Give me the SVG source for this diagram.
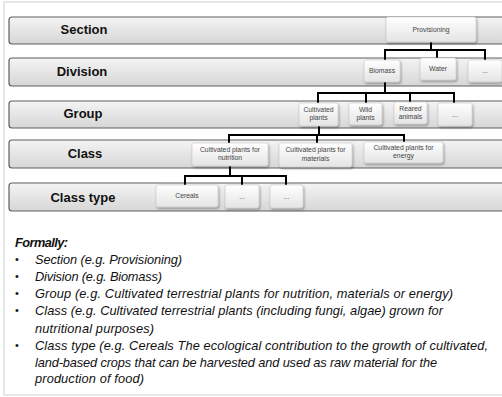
<svg xmlns="http://www.w3.org/2000/svg" width="502" height="397" viewBox="0 0 502 397">
<defs>
<linearGradient id="barG" x1="0" y1="0" x2="0" y2="1">
<stop offset="0" stop-color="#f4f4f4"/>
<stop offset="1" stop-color="#d6d6d6"/>
</linearGradient>
<linearGradient id="boxG" x1="0" y1="0" x2="0" y2="1">
<stop offset="0" stop-color="#ffffff"/>
<stop offset="1" stop-color="#e4e4e4"/>
</linearGradient>
<filter id="sh" x="-20%" y="-20%" width="140%" height="150%">
<feDropShadow dx="1" dy="1.5" stdDeviation="0.8" flood-color="#000" flood-opacity="0.35"/>
</filter>
</defs>
<style>
.bar{fill:url(#barG);stroke:#5e5e5e;stroke-width:1.2}
.box{fill:url(#boxG);stroke:#c8c8c8;stroke-width:0.6;filter:url(#sh)}
.lbl{font-family:"Liberation Sans",Arial,sans-serif;font-weight:bold;font-size:13px;fill:#111;text-anchor:middle}
.bt{font-family:"Liberation Sans",Arial,sans-serif;font-size:6.8px;fill:#444;text-anchor:middle}
.conn{fill:none;stroke:#000;stroke-width:2}
.txt{font-family:"Liberation Sans",Arial,sans-serif;font-style:italic;font-size:12.8px;fill:#111}
.bul{font-family:"Liberation Sans",Arial,sans-serif;font-size:11px;fill:#111}
</style>
<rect x="0" y="0" width="502" height="397" fill="#fff"/>
<rect x="4" y="2" width="510" height="393" fill="#fff" stroke="#d0d0d0" stroke-width="1"/>

<g id="bar-section"><rect class="bar" x="9" y="17" width="505" height="27" rx="3"/><text class="lbl" x="84" y="34">Section</text></g>
<g id="bar-division"><rect class="bar" x="9" y="58" width="505" height="28" rx="3"/><text class="lbl" x="82" y="76">Division</text></g>
<g id="bar-group"><rect class="bar" x="9" y="101" width="505" height="27" rx="3"/><text class="lbl" x="83" y="118">Group</text></g>
<g id="bar-class"><rect class="bar" x="9" y="140" width="505" height="28" rx="3"/><text class="lbl" x="85" y="158">Class</text></g>
<g id="bar-classtype"><rect class="bar" x="9" y="183" width="505" height="28" rx="3"/><text class="lbl" x="83" y="202">Class type</text></g>

<g id="connectors">
<path class="conn" d="M431 42V50M385 60V50H485V60M437 50V58"/>
<path class="conn" d="M385 82V93M318 103V93H454V103M366 93V103M410 93V103"/>
<path class="conn" d="M319 126V135M229 143V135H404V142M317 135V143"/>
<path class="conn" d="M230 166V176M185 185V176H286V185M242 176V185"/>
</g>

<g id="n-provisioning"><rect class="box" x="386" y="17" width="90" height="25" rx="2"/><text class="bt" x="431" y="32">Provisioning</text></g>
<g id="n-biomass"><rect class="box" x="364" y="60" width="36" height="22" rx="2"/><text class="bt" x="382" y="73">Biomass</text></g>
<g id="n-water"><rect class="box" x="420" y="58" width="36" height="22" rx="2"/><text class="bt" x="438" y="71">Water</text></g>
<g id="n-div-more"><rect class="box" x="468" y="60" width="34" height="22" rx="2"/><text class="bt" x="485" y="73">...</text></g>

<g id="n-cultivated"><rect class="box" x="299" y="103" width="39" height="23" rx="2"/><text class="bt" x="318.5" y="112">Cultivated</text><text class="bt" x="318.5" y="120">plants</text></g>
<g id="n-wild"><rect class="box" x="349" y="103" width="33" height="22" rx="2"/><text class="bt" x="365.5" y="112">Wild</text><text class="bt" x="365.5" y="120">plants</text></g>
<g id="n-reared"><rect class="box" x="394" y="102" width="33" height="22" rx="2"/><text class="bt" x="410.5" y="111">Reared</text><text class="bt" x="410.5" y="119">animals</text></g>
<g id="n-group-more"><rect class="box" x="438" y="103" width="34" height="23" rx="2"/><text class="bt" x="455" y="117">...</text></g>

<g id="n-nutrition"><rect class="box" x="192" y="143" width="76" height="23" rx="2"/><text class="bt" x="230" y="152">Cultivated plants for</text><text class="bt" x="230" y="160">nutrition</text></g>
<g id="n-materials"><rect class="box" x="279" y="143" width="73" height="24" rx="2"/><text class="bt" x="315.5" y="152">Cultivated plants for</text><text class="bt" x="315.5" y="160.5">materials</text></g>
<g id="n-energy"><rect class="box" x="364" y="142" width="79" height="21" rx="2"/><text class="bt" x="403.5" y="150">Cultivated plants for</text><text class="bt" x="403.5" y="158">energy</text></g>

<g id="n-cereals"><rect class="box" x="156" y="185" width="62" height="22" rx="2"/><text class="bt" x="187" y="198">Cereals</text></g>
<g id="n-ct-more1"><rect class="box" x="225" y="185" width="34" height="23" rx="2"/><text class="bt" x="242" y="199">...</text></g>
<g id="n-ct-more2"><rect class="box" x="270" y="185" width="33" height="23" rx="2"/><text class="bt" x="286.5" y="199">...</text></g>

<g id="notes">
<text class="txt" x="15" y="247" font-weight="bold" textLength="53">Formally:</text>
<g class="bul">
<text x="15" y="263">•</text>
<text x="15" y="280">•</text>
<text x="15" y="297">•</text>
<text x="15" y="314">•</text>
<text x="15" y="349">•</text>
</g>
<g class="txt">
<text x="35" y="264" textLength="147">Section (e.g. Provisioning)</text>
<text x="35" y="281" textLength="127">Division (e.g. Biomass)</text>
<text x="35" y="298" textLength="418">Group (e.g. Cultivated terrestrial plants for nutrition, materials or energy)</text>
<text x="35" y="315" textLength="408">Class (e.g. Cultivated terrestrial plants (including fungi, algae) grown for</text>
<text x="35" y="333" textLength="119">nutritional purposes)</text>
<text x="35" y="350" textLength="453">Class type (e.g. Cereals  The ecological contribution to the growth of cultivated,</text>
<text x="35" y="367" textLength="402">land-based crops that can be harvested and used as raw material for the</text>
<text x="35" y="383" textLength="109">production of food)</text>
</g>
</g>
</svg>
